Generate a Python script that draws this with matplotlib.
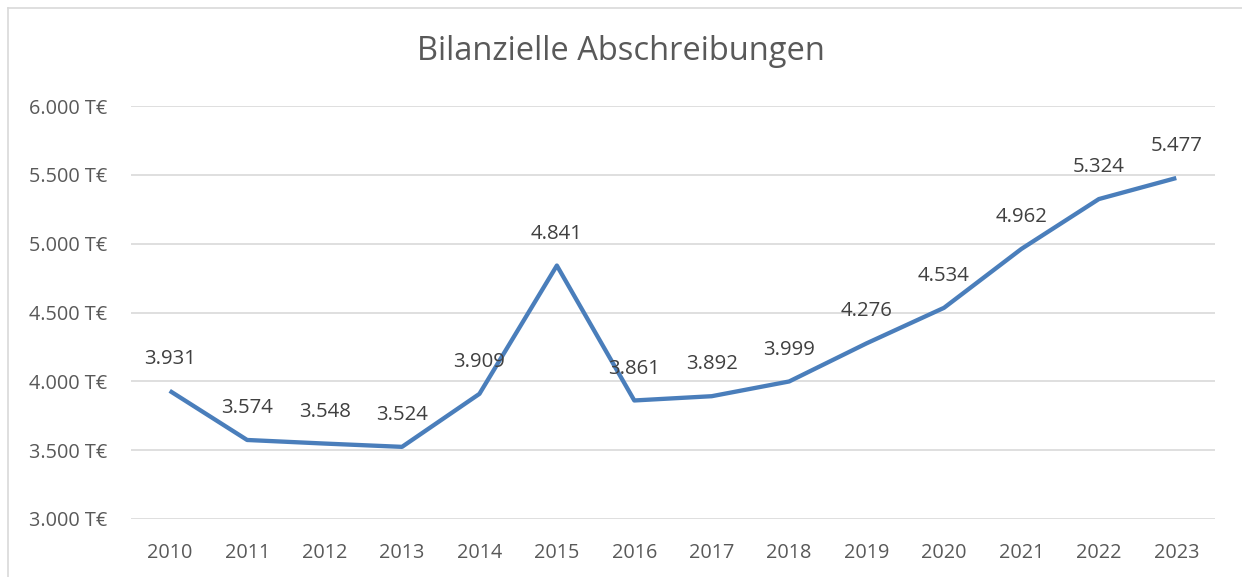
import matplotlib.pyplot as plt
from matplotlib.lines import Line2D

jahre = ["2010", "2011", "2012", "2013", "2014", "2015", "2016",
         "2017", "2018", "2019", "2020", "2021", "2022", "2023"]
abschreibungen = [3931, 3574, 3548, 3524, 3909, 4841, 3861,
                  3892, 3999, 4276, 4534, 4962, 5324, 5477]
y_ticks = [3000, 3500, 4000, 4500, 5000, 5500, 6000]

plt.rcParams['font.family'] = ['Open Sans', 'DejaVu Sans']
text_col = "#595959"

fig = plt.figure(figsize=(12.42, 5.77), dpi=100)
ax = fig.add_axes([131 / 1242, 1 - 519 / 577, (1215 - 131) / 1242, (519 - 106) / 577])

x = list(range(len(jahre)))
ax.plot(x, abschreibungen, color="#4a7ebb", linewidth=3.1, solid_capstyle="butt")

def fmt(v):
    return f"{v:,}".replace(",", ".")

for xi, v in zip(x, abschreibungen):
    ax.annotate(fmt(v), (xi, v), xytext=(0, 23), textcoords="offset points",
                ha="center", va="center", fontsize=14.7, color="#404040")

ax.set_xlim(-0.5, len(jahre) - 0.5)
ax.set_ylim(3000, 6000)
ax.set_yticks(y_ticks)
ax.set_yticklabels([fmt(t) + " T€" for t in y_ticks])
ax.set_xticks(x)
ax.set_xticklabels(jahre)
ax.tick_params(length=0, labelsize=14.3, labelcolor=text_col)
ax.tick_params(axis="x", pad=17)
ax.tick_params(axis="y", pad=17)
ax.grid(axis="y", color="#d9d9d9", linewidth=1.2)
ax.set_axisbelow(True)
for s in ax.spines.values():
    s.set_visible(False)

fig.text(0.5, 1 - 52 / 577, "Bilanzielle Abschreibungen", ha="center", va="center",
         fontsize=23.5, color=text_col)

# chart border
fig.add_artist(Line2D([7.5 / 1242, 7.5 / 1242], [0, 1 - 8 / 577], color="#d9d9d9", linewidth=1.2))
fig.add_artist(Line2D([7.5 / 1242, 1], [1 - 8 / 577, 1 - 8 / 577], color="#d9d9d9", linewidth=1.2))

fig.savefig("out.png", dpi=100)
